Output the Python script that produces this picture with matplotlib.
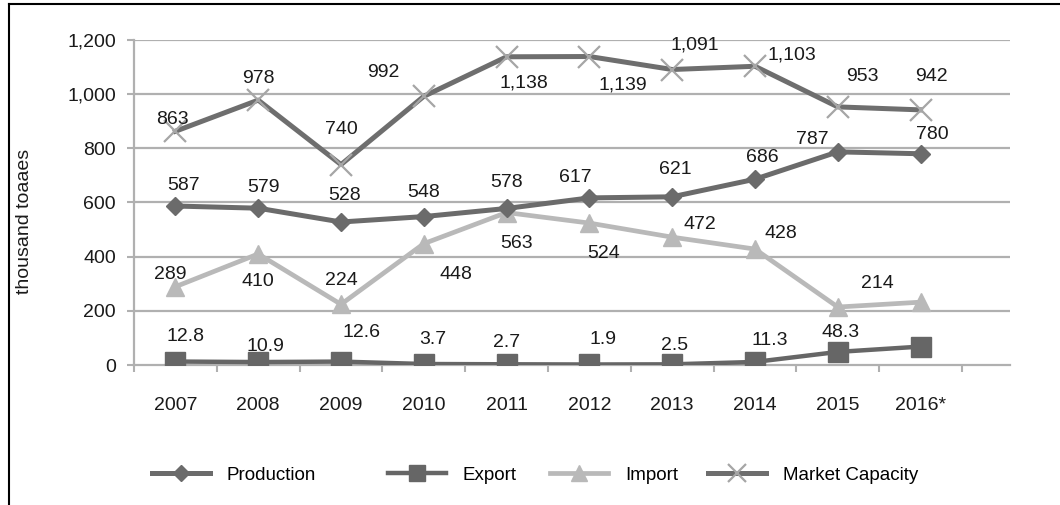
import matplotlib
matplotlib.use("Agg")
import matplotlib.pyplot as plt
from matplotlib.lines import Line2D

plt.rcParams['font.family'] = ['Liberation Sans', 'DejaVu Sans']

years = ['2007', '2008', '2009', '2010', '2011', '2012', '2013', '2014', '2015', '2016*']
production = [587, 579, 528, 548, 578, 617, 621, 686, 787, 780]
export = [12.8, 10.9, 12.6, 3.7, 2.7, 1.9, 2.5, 11.3, 48.3, 68]
imports = [289, 410, 224, 448, 563, 524, 472, 428, 214, 232]
market = [863, 978, 740, 992, 1138, 1139, 1091, 1103, 953, 942]

# label offsets in pixels (dx, dy up); None = no label
prod_off = [(8, 21), (5, 21), (4, 27), (0, 24), (0, 26), (-14, 20), (3, 27), (7, 22), (-25, 12), (12, 19)]
exp_off = [(10, 25), (7, 16), (21, 29), (9, 24), (0, 22), (14, 25), (2, 19), (15, 21), (3, 19), None]
imp_off = [(-5, 12), (0, -28), (0, 24), (32, -31), (10, -31), (14, -30), (28, 13), (26, 16), (40, 24), None]
mkt_off = [(-3, 12), (0, 22), (0, 35), (-40, 24), (17, -26), (33, -28), (23, 25), (37, 11), (25, 30), (11, 33)]

fig = plt.figure(figsize=(10.6, 5.05), dpi=100)
ax = fig.add_axes([134 / 1060, 1 - 365 / 505, 876 / 1060, 325 / 505])

x = list(range(len(years)))
grid_c = '#b0b0b0'
txt_c = '#1a1a1a'
fs = 14
for v in range(200, 1201, 200):
    ax.axhline(v, color=grid_c, lw=1.6, zorder=1)

lines = []
lines += ax.plot(x, production, color='#6b6b6b', lw=3.6, marker='D', ms=9, zorder=4, label='Production')
lines += ax.plot(x, export, color='#666666', lw=3.2, marker='s', ms=14, zorder=4, label='Export')
lines += ax.plot(x, imports, color='#b9b9b9', lw=3.4, marker='^', ms=13, zorder=3, label='Import')
lines += ax.plot(x, market, color='#6e6e6e', lw=3.6, marker='x', ms=16, mew=1.6, mec='#a6a6a6',
                 zorder=4, label='Market Capacity')

def add_labels(vals, offs, fmt):
    for i, (v, o) in enumerate(zip(vals, offs)):
        if o is None:
            continue
        ax.annotate(fmt(v), (i, v), xytext=o, textcoords='offset pixels',
                    ha='center', va='center', fontsize=fs, color=txt_c, zorder=6)

add_labels(production, prod_off, lambda v: f'{v:,}')
add_labels(export, exp_off, lambda v: f'{v:.1f}')
add_labels(imports, imp_off, lambda v: f'{v:,}')
add_labels(market, mkt_off, lambda v: f'{v:,}')

ax.set_xlim(-0.5, 10.08)
ax.set_ylim(0, 1200)
ax.set_yticks(range(0, 1201, 200))
ax.set_yticklabels([f'{v:,}' for v in range(0, 1201, 200)])
ax.set_xticks(x)
ax.set_xticklabels(years)
ax.set_xticks([i - 0.5 for i in range(len(years) + 1)], minor=True)
ax.tick_params(axis='x', which='major', length=0, pad=23, labelsize=fs, labelcolor=txt_c)
ax.tick_params(axis='x', which='minor', length=5, width=1.5, color=grid_c, direction='out')
ax.tick_params(axis='y', length=5, width=1.5, color=grid_c, pad=8, labelsize=fs, labelcolor=txt_c)

for s in ['top', 'right']:
    ax.spines[s].set_visible(False)
ax.spines['left'].set_color(grid_c)
ax.spines['left'].set_linewidth(1.6)
ax.spines['bottom'].set_color(grid_c)
ax.spines['bottom'].set_linewidth(1.6)

ax.set_ylabel('thousand toaaes', fontsize=14, color=txt_c)
ax.yaxis.set_label_coords(-0.115, 0.443)

# legend entries placed one by one, as in the original
for ln, lx in zip(lines, [152, 388, 550, 708]):
    fig.legend([ln], [ln.get_label()], loc='center left', bbox_to_anchor=(lx / 1060, 1 - 475 / 505),
               frameon=False, fontsize=13.5, handlelength=3.1, handletextpad=0.9,
               borderpad=0, borderaxespad=0, markerscale=0.85)

fig.add_artist(Line2D([9 / 1060, 9 / 1060], [0, 1 - 4 / 505], color='black', lw=1.5))
fig.add_artist(Line2D([9 / 1060, 1], [1 - 4 / 505, 1 - 4 / 505], color='black', lw=1.5))

plt.savefig('out.png', dpi=100)
